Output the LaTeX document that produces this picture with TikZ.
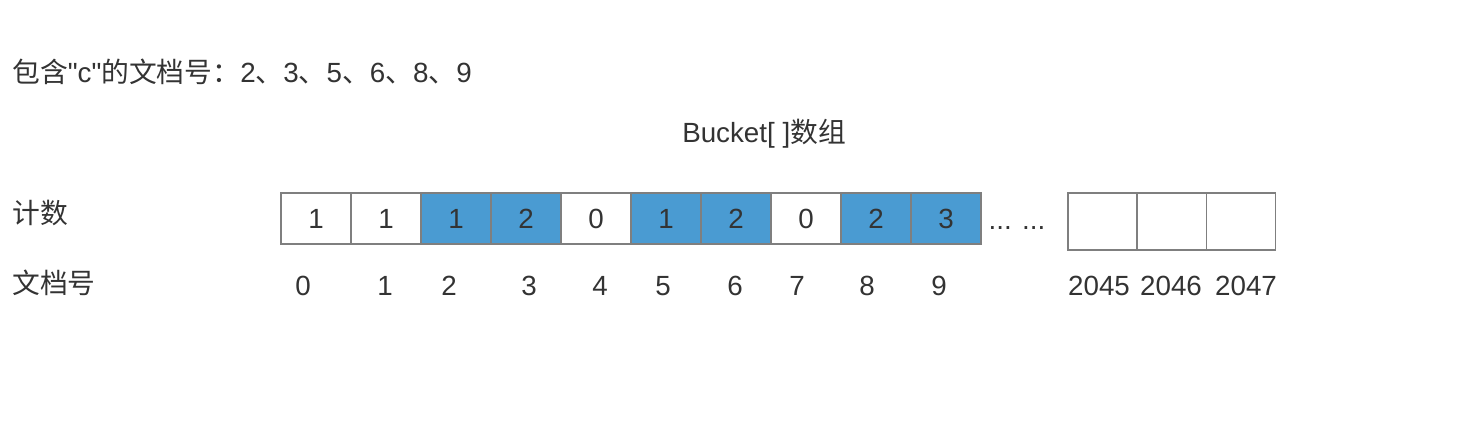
\documentclass[tikz,border=0pt]{standalone}
\usepackage{fontspec}
\setmainfont{Liberation Sans}
\newfontfamily\cjk{Noto Sans CJK SC}
\newfontfamily\plainsans{Liberation Sans}
\usepackage{xcolor}
\usepackage{tikz}
\usetikzlibrary{positioning}
\definecolor{bucketblue}{HTML}{4A9BD2}
\definecolor{cellline}{HTML}{7F7F7F}
\definecolor{txt}{HTML}{333333}
\newcommand{\dun}{{\cjk 、}}

\begin{document}
\begin{tikzpicture}[x=0.02cm,y=-0.02cm,
  font=\fontsize{15.8}{18}\selectfont, text=txt,
  cell/.style={draw=cellline,line width=0.9pt,minimum width=1.4cm,minimum height=1.02cm,inner sep=0pt},
  hot/.style={cell,fill=bucketblue},
  tail/.style={draw=cellline,line width=0.9pt,minimum width=1.38cm,minimum height=1.14cm,inner sep=0pt},
  lbl/.style={anchor=west,inner sep=0pt},
]
  \useasboundingbox (0,0) rectangle (1466,440);

  \node[lbl] (title) at (12,72) {{\cjk 包含}{\plainsans "c"}{\cjk 的文档号：}2\dun 3\dun 5\dun 6\dun 8\dun 9};
  \node[inner sep=0pt] (bucket) at (764,134) {Bucket[ ]{\cjk 数组}};
  \node[lbl] (count) at (12,213) {\cjk 计数};
  \node[lbl] (docid) at (12,283) {\cjk 文档号};

  % counting cells 0..9
  \foreach \i/\v/\s in {0/1/cell,1/1/cell,2/1/hot,3/2/hot,4/0/cell,5/1/hot,6/2/hot,7/0/cell,8/2/hot,9/3/hot} {
    \node[\s] (c\i) at (316+70*\i,218.5) {\v};
  }
  \node[inner sep=0pt] (dots) at (1017,228) {... ...};

  % last cells
  \foreach \i/\x in {2045/1102.5,2046/1172,2047/1241} {
    \node[tail] (c\i) at (\x,221.5) {};
  }

  % document numbers
  \foreach \n/\x in {0/303,1/385,2/449,3/529,4/600,5/663,6/735,7/797,8/867,9/939,2045/1099,2046/1171,2047/1246} {
    \node[inner sep=0pt] (d\n) at (\x,286) {\n};
  }
\end{tikzpicture}
\end{document}
